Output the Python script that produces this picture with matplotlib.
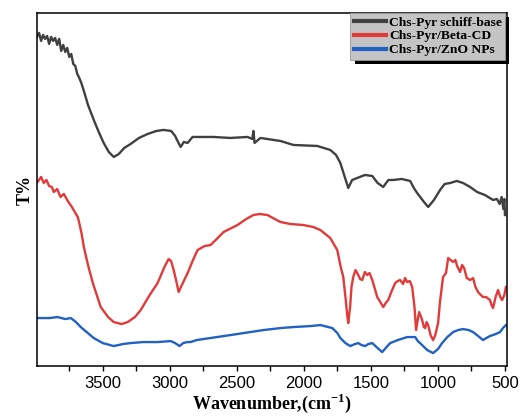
import numpy as np
import matplotlib
matplotlib.use("Agg")
import matplotlib.pyplot as plt
import matplotlib.patheffects as pe
from matplotlib.ticker import MultipleLocator

plt.rcParams['mathtext.fontset'] = 'custom'
plt.rcParams['mathtext.bf'] = 'Liberation Serif:bold'
plt.rcParams['mathtext.rm'] = 'Liberation Serif:bold'

# FTIR spectra (wavenumber in cm-1, offset transmittance in arbitrary units)
wn_schiff = [3991, 3975, 3960, 3945, 3930, 3915, 3900, 3885, 3870, 3855, 3840, 3825,
             3810, 3795, 3780, 3765, 3750, 3735, 3720, 3705, 3690, 3675, 3660, 3641,
             3610, 3567, 3530, 3493, 3455, 3418, 3380, 3340, 3292, 3230, 3165, 3100,
             3046, 2990, 2960, 2935, 2919, 2895, 2867, 2830, 2750, 2674, 2550, 2420,
             2385, 2376, 2368, 2324, 2175, 2078, 1900, 1803, 1760, 1728, 1695, 1669,
             1640, 1602, 1545, 1490, 1450, 1408, 1370, 1334, 1270, 1207, 1180, 1155,
             1110, 1073, 1030, 984, 950, 909, 860, 813, 760, 708, 650, 589, 560, 540,
             525, 512, 505, 500]
t_schiff = [320, 324, 316, 322, 318, 321, 313, 320, 316, 319, 312, 318,
            306, 312, 305, 309, 300, 303, 293, 291, 283, 279, 274, 266,
            252, 237, 225, 214, 205, 200, 203, 209, 213, 219, 223, 226,
            227, 226, 221, 214, 210, 215, 214, 220, 220, 220, 219, 220,
            218, 226, 214, 219, 216, 212, 211, 207, 202, 194, 180, 169,
            177, 179, 182, 181, 174, 170, 177, 177, 178, 176, 169, 164,
            156, 150, 157, 167, 173, 174, 176, 174, 170, 165, 162, 157, 158, 153,
            160, 148, 158, 142]

wn_beta = [3986, 3960, 3940, 3920, 3900, 3880, 3865, 3840, 3815, 3790, 3761, 3730,
           3700, 3686, 3660, 3641, 3610, 3574, 3515, 3460, 3418, 3360, 3314, 3260,
           3217, 3150, 3091, 3040, 3009, 2990, 2971, 2950, 2934, 2910, 2867, 2830,
           2793, 2740, 2696, 2650, 2599, 2495, 2430, 2376, 2330, 2272, 2175, 2100,
           2004, 1930, 1877, 1803, 1751, 1725, 1706, 1690, 1675, 1669, 1655, 1645,
           1632, 1615, 1602, 1580, 1565, 1545, 1527, 1510, 1490, 1470, 1453, 1430,
           1408, 1390, 1371, 1345, 1319, 1300, 1282, 1260, 1245, 1230, 1210, 1192,
           1175, 1163, 1150, 1140, 1120, 1105, 1095, 1085, 1073, 1055, 1036, 1020,
           999, 985, 962, 940, 924, 905, 887, 870, 857, 835, 820, 805, 785, 760,
           738, 720, 701, 680, 664, 640, 612, 600, 589, 570, 552, 535, 522, 505, 493]
t_beta = [175, 180, 174, 177, 171, 170, 165, 168, 160, 163, 156, 150,
          143, 140, 125, 110, 92, 74, 50, 40, 35, 33, 35, 40,
          47, 62, 74, 90, 98, 96, 87, 75, 65, 72, 84, 96,
          107, 111, 112, 118, 125, 132, 138, 142, 143, 142, 135, 133,
          132, 130, 127, 119, 107, 90, 80, 60, 40, 34, 50, 70,
          80, 87, 84, 78, 77, 85, 82, 84, 77, 68, 60, 55,
          50, 54, 57, 66, 74, 76, 77, 73, 79, 75, 76, 70,
          50, 27, 38, 45, 38, 30, 29, 35, 32, 22, 17, 22,
          34, 55, 80, 84, 99, 97, 95, 97, 91, 85, 92, 89, 79, 77,
          79, 70, 65, 62, 60, 60, 57, 52, 49, 60, 67, 60, 57, 62, 70]

wn_zno = [3986, 3900, 3835, 3780, 3738, 3700, 3664, 3620, 3567, 3500, 3418, 3350,
          3292, 3200, 3091, 2994, 2960, 2927, 2900, 2870, 2845, 2800, 2700, 2547,
          2400, 2301, 2175, 2078, 1950, 1877, 1788, 1750, 1728, 1690, 1654, 1620,
          1594, 1570, 1542, 1520, 1490, 1450, 1416, 1390, 1356, 1300, 1230, 1200,
          1170, 1150, 1118, 1080, 1036, 1000, 969, 930, 887, 850, 813, 770,
          738, 700, 664, 640, 612, 570, 537, 515, 493]
t_zno = [39, 39, 40, 38, 39, 35, 30, 25, 19, 14, 11, 13,
         14, 15, 15, 16, 14, 11, 14, 15, 15, 17, 19, 22,
         25, 27, 29, 30, 31, 32, 29, 24, 19, 14, 11, 13,
         14, 12, 11, 13, 14, 9, 5, 9, 14, 17, 20, 20,
         20, 16, 12, 7, 4, 8, 14, 20, 25, 27, 28, 27,
         25, 21, 17, 19, 21, 23, 25, 29, 32]

labels = ['Chs-Pyr schiff-base', 'Chs-Pyr/Beta-CD', 'Chs-Pyr/ZnO NPs']
colors = ['#404040', '#e23a3a', '#2161c4']

fig = plt.figure(figsize=(5.2, 4.16), dpi=100)
ax = fig.add_axes([0.071, 0.120, 0.904, 0.849])

ax.plot(wn_schiff, t_schiff, color=colors[0], lw=1.7, label=labels[0])
ax.plot(wn_beta, t_beta, color=colors[1], lw=1.7, label=labels[1])
ax.plot(wn_zno, t_zno, color=colors[2], lw=1.7, label=labels[2])

ax.set_xlim(3991, 485)
ax.set_ylim(-9, 344)
ax.xaxis.set_major_locator(MultipleLocator(500))
ax.xaxis.set_minor_locator(MultipleLocator(250))
ax.tick_params(axis='x', which='both', direction='out', length=3.5, width=1,
               labelsize=12, pad=4)
ax.set_yticks([])
for lab in ax.get_xticklabels():
    lab.set_fontfamily('Liberation Sans')
for sp in ax.spines.values():
    sp.set_linewidth(1.1)

ax.set_xlabel(r'Wavenumber,(cm$^{\mathbf{-1}}$)', fontfamily='Liberation Serif',
              fontweight='bold', fontsize=13)
ax.xaxis.set_label_coords(0.5, -0.074)
ax.set_ylabel('T%', fontfamily='Liberation Serif', fontweight='bold', fontsize=13,
              labelpad=2)

leg = ax.legend(loc='upper right', bbox_to_anchor=(0.996, 1.0), borderaxespad=0,
                prop={'family': 'Liberation Serif', 'weight': 'bold', 'size': 9.7},
                handlelength=2.4, handletextpad=0.2, labelspacing=0.1,
                borderpad=0.25, fancybox=False, framealpha=1)
frame = leg.get_frame()
frame.set_facecolor('#c4c4c4')
frame.set_edgecolor('#9a9a9a')
frame.set_linewidth(0.6)
frame.set_path_effects([pe.SimplePatchShadow(offset=(3, -3), shadow_rgbFace='black',
                                             alpha=1), pe.Normal()])
for h in leg.get_lines():
    h.set_linewidth(3)

fig.savefig('out.png', dpi=100)
